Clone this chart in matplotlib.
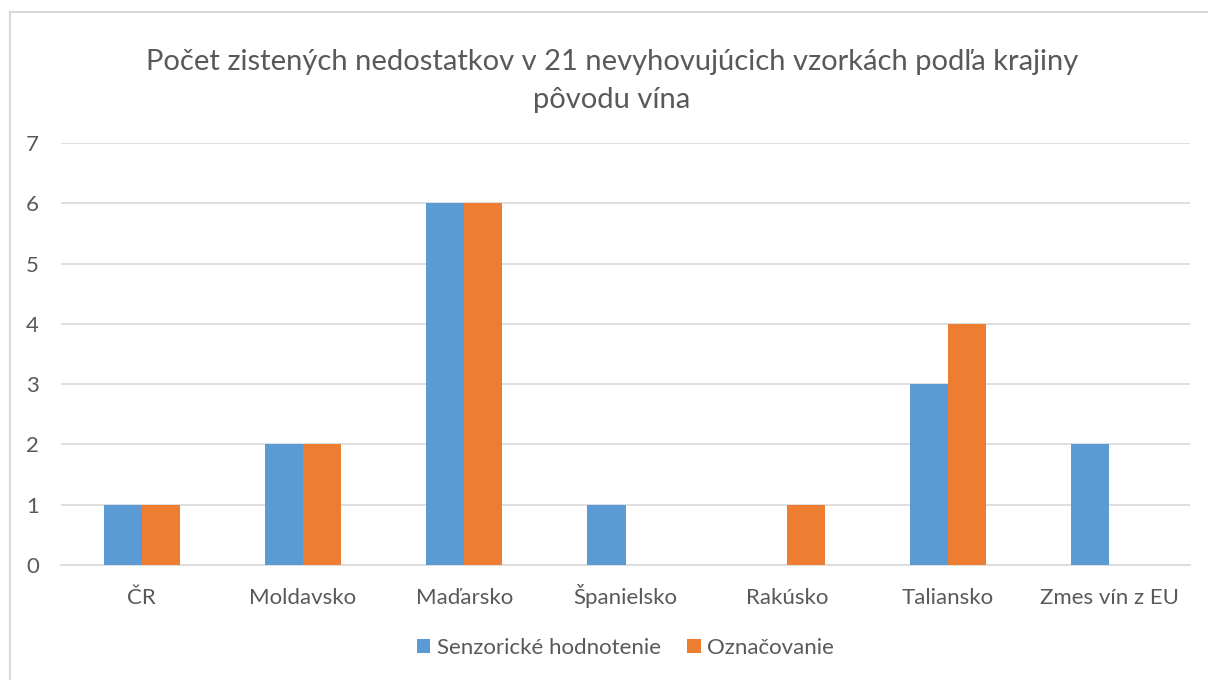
import numpy as np
import matplotlib.pyplot as plt
from matplotlib.lines import Line2D

krajiny = ["ČR", "Moldavsko", "Maďarsko", "Španielsko", "Rakúsko", "Taliansko", "Zmes vín z EU"]
senzoricke = [1, 2, 6, 1, 0, 3, 2]
oznacovanie = [1, 2, 6, 0, 1, 4, 0]

plt.rcParams['font.family'] = ['Lato', 'DejaVu Sans']

fig = plt.figure(figsize=(12.08, 6.8), dpi=100)
ax = fig.add_axes([61/1208, 115/680, 1129/1208, 422/680])

x = np.arange(len(krajiny))
w = 0.236
ax.bar(x - w/2, senzoricke, w, color="#5B9BD5", label="Senzorické hodnotenie", zorder=3)
ax.bar(x + w/2, oznacovanie, w, color="#ED7D31", label="Označovanie", zorder=3)

ax.set_xlim(-0.5, len(krajiny) - 0.5)
ax.set_ylim(0, 7)
ax.set_yticks(range(8))
ax.yaxis.grid(True, color="#D9D9D9", lw=1.2, zorder=0)
for s in ["top", "right", "left"]:
    ax.spines[s].set_visible(False)
ax.spines["bottom"].set_color("#D9D9D9")
ax.spines["bottom"].set_linewidth(1.2)
ax.set_xticks(x)
ax.set_xticklabels(krajiny, va="baseline")
ax.tick_params(axis="both", length=0, colors="#595959", labelsize=16)
ax.tick_params(axis="x", pad=28)
ax.tick_params(axis="y", pad=16)

fig.text(612/1208, 1 - 70/680, "Počet zistených nedostatkov v 21 nevyhovujúcich vzorkách podľa krajiny",
         ha="center", va="baseline", fontsize=21, color="#595959")
fig.text(612/1208, 1 - 108/680, "pôvodu vína", ha="center", va="baseline", fontsize=21, color="#595959")

ax.legend(loc="center", bbox_to_anchor=(0.5, -(648 - 565) / 422), ncol=2, frameon=False,
          fontsize=16, labelcolor="#595959", handlelength=0.6, handleheight=0.6,
          handletextpad=0.3, columnspacing=1.2)

fig.add_artist(Line2D([10/1208, 10/1208], [0, 1 - 12/680], color="#D9D9D9", lw=1.5))
fig.add_artist(Line2D([10/1208, 1], [1 - 12/680, 1 - 12/680], color="#D9D9D9", lw=1.5))

fig.savefig("out.png", dpi=100)
